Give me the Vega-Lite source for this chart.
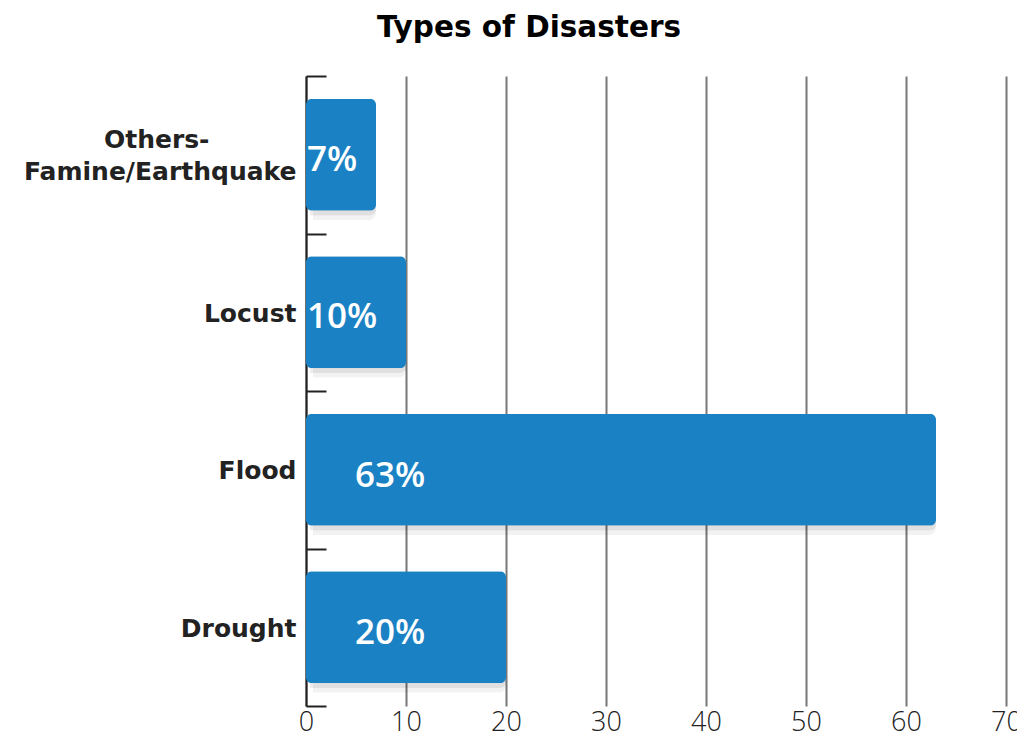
{
  "$schema": "https://vega.github.io/schema/vega-lite/v6.json",
  "autosize": {"type": "none"},
  "width": 700,
  "height": 630,
  "padding": {"left": 306, "top": 76, "right": 11, "bottom": 34},
  "background": "white",
  "config": {"view": {"stroke": null}},
  "title": {
    "text": "Types of Disasters",
    "font": "DejaVu Sans",
    "fontSize": 29.5,
    "fontWeight": "bold",
    "color": "#000000",
    "anchor": "middle",
    "dx": -127,
    "offset": 21
  },
  "data": {
    "values": [
      {"type": "Others-Famine/Earthquake", "share": 7, "label": "7%"},
      {"type": "Locust", "share": 10, "label": "10%"},
      {"type": "Flood", "share": 63, "label": "63%"},
      {"type": "Drought", "share": 20, "label": "20%"}
    ]
  },
  "encoding": {
    "y": {
      "field": "type",
      "type": "nominal",
      "sort": null,
      "scale": {"paddingInner": 0, "paddingOuter": 0},
      "axis": {
        "title": null,
        "tickBand": "extent",
        "tickSize": -20,
        "tickWidth": 2,
        "tickColor": "#222222",
        "domainColor": "#222222",
        "domainWidth": 2,
        "labelFont": "DejaVu Sans",
        "labelFontSize": 25,
        "labelFontWeight": "bold",
        "labelColor": "#222222",
        "labelPadding": 30,
        "labelOffset": {
          "condition": {"test": "datum.value == 'Others-Famine/Earthquake'", "value": -15},
          "value": 1
        },
        "labelLimit": 400,
        "labelLineHeight": 32,
        "labelExpr": "datum.value == 'Others-Famine/Earthquake' ? ['Others-\u00a0\u00a0\u00a0\u00a0\u00a0\u00a0\u00a0\u00a0\u00a0\u00a0\u200b', 'Famine/Earthquake'] : datum.value"
      }
    }
  },
  "layer": [
    {
      "mark": {"type": "bar", "cornerRadius": 8, "color": "#000000", "opacity": 0.05, "height": {"band": 0.73}},
      "encoding": {
        "x": {"field": "share", "type": "quantitative"},
        "xOffset": {"value": 7},
        "yOffset": {"value": 8}
      }
    },
    {
      "mark": {"type": "bar", "cornerRadius": 7, "color": "#000000", "opacity": 0.07, "height": {"band": 0.71}},
      "encoding": {
        "x": {"field": "share", "type": "quantitative"},
        "xOffset": {"value": 4},
        "yOffset": {"value": 5}
      }
    },
    {
      "mark": {"type": "bar", "cornerRadius": 6, "color": "#1a82c4", "height": {"band": 0.711}},
      "encoding": {
        "x": {
          "field": "share",
          "type": "quantitative",
          "scale": {"domain": [0, 70], "nice": false},
          "axis": {
            "title": null,
            "values": [0, 10, 20, 30, 40, 50, 60, 70],
            "domain": false,
            "ticks": false,
            "grid": true,
            "gridColor": "#777777",
            "gridWidth": 2,
            "gridOpacity": 1,
            "labelFont": "Open Sans",
            "labelFontSize": 27,
            "labelFontWeight": 300,
            "labelColor": "#222222",
            "labelPadding": 3,
            "labelFlush": false
          }
        }
      }
    },
    {
      "transform": [{"filter": "datum.share < 15"}],
      "mark": {"type": "text", "align": "left", "baseline": "middle", "dx": 1, "dy": 5, "font": "Open Sans", "fontSize": 35, "fontWeight": 600, "color": "white"},
      "encoding": {
        "x": {"datum": 0, "type": "quantitative"},
        "text": {"field": "label"}
      }
    },
    {
      "transform": [{"filter": "datum.share >= 15"}],
      "mark": {"type": "text", "align": "left", "baseline": "middle", "dx": 49, "dy": 6, "font": "Open Sans", "fontSize": 35, "fontWeight": 600, "color": "white"},
      "encoding": {
        "x": {"datum": 0, "type": "quantitative"},
        "text": {"field": "label"}
      }
    }
  ]
}
